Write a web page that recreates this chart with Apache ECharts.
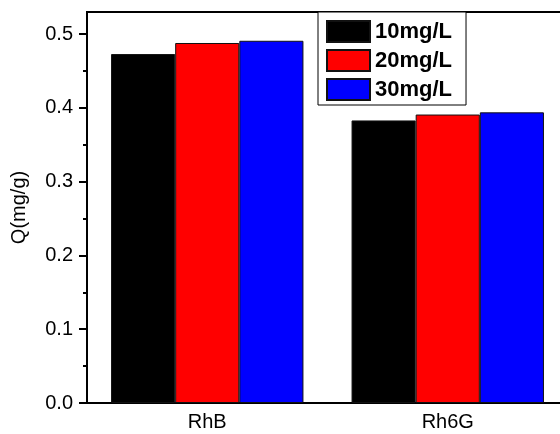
<!DOCTYPE html>
<html>
<head>
<meta charset="utf-8">
<script src="https://cdn.jsdelivr.net/npm/echarts@6/dist/echarts.min.js"></script>
<style>
  html, body { margin: 0; padding: 0; background: #fff; }
  #chart { width: 560px; height: 434px; }
</style>
</head>
<body>
<div id="chart"></div>
<script>
var categories = ['RhB', 'Rh6G'];
var seriesNames = ['10mg/L', '20mg/L', '30mg/L'];
var seriesColors = ['#000000', '#ff0000', '#0000ff'];
var q10 = [0.473, 0.383];
var q20 = [0.488, 0.391];
var q30 = [0.491, 0.394];
var yMajor = [0, 0.1, 0.2, 0.3, 0.4, 0.5];
var yMinor = [0.05, 0.15, 0.25, 0.35, 0.45];

var values = [q10, q20, q30];
var font = 'Arial, "Liberation Sans", sans-serif';

var chart = echarts.init(document.getElementById('chart'));

var series = seriesNames.map(function (name, i) {
    return {
        name: name,
        type: 'bar',
        data: values[i],
        barGap: '0%',
        barCategoryGap: '20%',
        itemStyle: { color: seriesColors[i], borderColor: '#111', borderWidth: 1 }
    };
});

chart.setOption({
    animation: false,
    grid: {
        left: 87, right: -8, top: 12, bottom: 31,
        outerBoundsMode: 'none',
        show: true, borderColor: '#000', borderWidth: 2
    },
    legend: {
        orient: 'vertical',
        left: 318, top: 12,
        padding: [8, 14, 4, 8],
        itemWidth: 43, itemHeight: 21, itemGap: 6,
        icon: 'rect',
        backgroundColor: '#fff',
        borderColor: '#000', borderWidth: 1,
        textStyle: { fontFamily: font, fontSize: 22, fontWeight: 'bold', color: '#000' },
        data: seriesNames
    },
    xAxis: [{
        type: 'category',
        data: categories,
        axisLine: { lineStyle: { color: '#000', width: 2 } },
        axisTick: { alignWithLabel: true, length: 6, lineStyle: { color: '#000', width: 2 } },
        axisLabel: { fontFamily: font, fontSize: 20, color: '#000', margin: 9 }
    }, {
        type: 'category',
        data: categories,
        position: 'bottom',
        axisLine: { show: false },
        axisTick: { length: 4, lineStyle: { color: '#000', width: 2 } },
        axisLabel: { show: false }
    }],
    yAxis: [{
        type: 'value',
        min: 0, max: 0.53,
        name: 'Q(mg/g)',
        nameLocation: 'middle',
        nameGap: 58,
        nameTextStyle: { fontFamily: font, fontSize: 20, color: '#000' },
        axisLine: { show: true, lineStyle: { color: '#000', width: 2 } },
        axisTick: { show: true, length: 8, customValues: yMajor, lineStyle: { color: '#000', width: 2 } },
        axisLabel: {
            fontFamily: font, fontSize: 20, color: '#000', margin: 14,
            customValues: yMajor,
            formatter: function (v) { return v.toFixed(1); }
        },
        splitLine: { show: false }
    }, {
        type: 'value',
        min: 0, max: 0.53,
        position: 'left',
        axisLine: { show: false },
        axisTick: { show: true, length: 4, customValues: yMinor, lineStyle: { color: '#000', width: 2 } },
        axisLabel: { show: false },
        splitLine: { show: false }
    }],
    series: series
});
</script>
</body>
</html>
